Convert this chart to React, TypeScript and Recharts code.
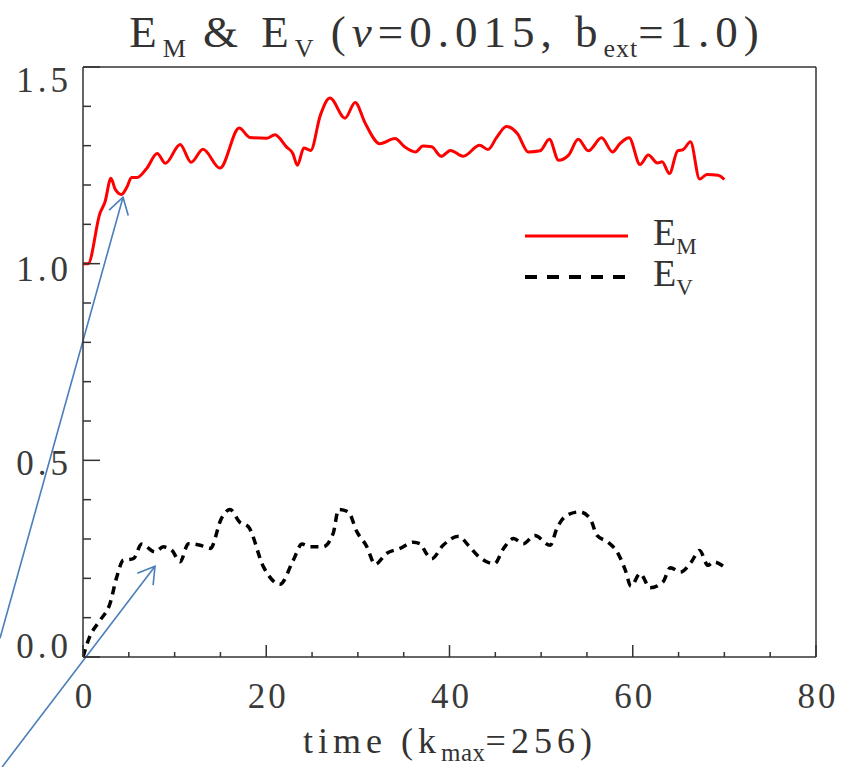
import { Customized, Line, LineChart, ReferenceLine, XAxis, YAxis } from 'recharts'

// magnetic energy E_M(t)
const emTime = [
  0, 0.55, 1.85, 2.4, 3.05, 3.5, 4.2, 4.8, 5.3, 5.9, 6.95, 8.1, 9.0, 10.6, 11.8, 13.1, 14.95, 17.05,
  18.2, 20.05, 20.95, 22.2, 22.9, 23.4, 24.1, 24.85, 25.9, 26.95, 28.6, 29.7, 30.8, 32.4, 34.05, 35.1,
  36.3, 37.1, 38.05, 39.1, 40.1, 41.5, 43.3, 44.2, 45.15, 46.2, 47.4, 48.6, 49.9, 50.9, 51.9, 53.0,
  54.05, 55.15, 56.6, 57.8, 58.6, 59.6, 60.8, 61.7, 62.7, 63.2, 64.0, 64.9, 65.5, 66.3, 67.3, 68.1,
  69.3, 70.0,
]
const emValue = [
  1.0, 1.0, 1.128, 1.157, 1.217, 1.19, 1.176, 1.195, 1.219, 1.219, 1.242, 1.28, 1.255, 1.303, 1.258,
  1.291, 1.243, 1.345, 1.321, 1.319, 1.328, 1.297, 1.28, 1.25, 1.294, 1.288, 1.377, 1.421, 1.37, 1.41,
  1.357, 1.305, 1.318, 1.297, 1.284, 1.299, 1.297, 1.273, 1.288, 1.273, 1.301, 1.29, 1.321, 1.349,
  1.331, 1.284, 1.287, 1.316, 1.263, 1.276, 1.316, 1.287, 1.32, 1.284, 1.305, 1.32, 1.252, 1.276,
  1.256, 1.259, 1.229, 1.287, 1.29, 1.31, 1.215, 1.227, 1.225, 1.214,
]

// kinetic energy E_V(t)
const evTime = [
  0, 0.7, 1.86, 2.95, 3.68, 4.4, 5.5, 6.4, 7.86, 8.77, 9.7, 10.6, 11.5, 12.8, 13.9, 15.1, 16.04, 17.1,
  18.05, 19.7, 21.5, 22.95, 23.9, 24.8, 26.2, 27.3, 27.9, 28.95, 29.9, 30.9, 31.9, 33.1, 34.6, 36.05,
  36.8, 37.5, 38.05, 39.3, 41.0, 42.05, 43.3, 44.9, 45.9, 47.0, 48.05, 49.3, 51.0, 51.7, 52.8, 54.2,
  55.35, 56.1, 57.3, 58.4, 59.2, 59.8, 60.8, 61.9, 63.3, 64.1, 65.2, 66.4, 67.3, 68.2, 68.8, 70.0,
]
const evValue = [
  0.0, 0.05, 0.093, 0.136, 0.203, 0.246, 0.25, 0.287, 0.267, 0.28, 0.271, 0.242, 0.288, 0.284, 0.276,
  0.352, 0.375, 0.343, 0.331, 0.229, 0.185, 0.246, 0.287, 0.28, 0.28, 0.314, 0.375, 0.369, 0.318,
  0.284, 0.236, 0.263, 0.276, 0.292, 0.288, 0.262, 0.25, 0.284, 0.307, 0.284, 0.253, 0.237, 0.276,
  0.301, 0.288, 0.309, 0.284, 0.326, 0.36, 0.369, 0.352, 0.309, 0.292, 0.263, 0.22, 0.18, 0.212,
  0.176, 0.191, 0.227, 0.216, 0.242, 0.271, 0.233, 0.242, 0.229,
]

const xTicks = [0, 5, 10, 15, 20, 25, 30, 35, 40, 45, 50, 55, 60, 65, 70, 75, 80]
const xLabels = [0, 20, 40, 60, 80]
const yTicks = [0, 0.1, 0.2, 0.3, 0.4, 0.5, 0.6, 0.7, 0.8, 0.9, 1.0, 1.1, 1.2, 1.3, 1.4, 1.5]
const yLabels = [0, 0.5, 1.0, 1.5]

const seriesNames = ['E_M', 'E_V']
const seriesColors = ['#ff0000', '#000000']

// hand-drawn annotation arrows, in data units (time, energy)
const arrowFrom = [
  { t: -9.06, v: 0.0475 },
  { t: -8.84, v: -0.28 },
]
const arrowTo = [
  { t: 4.37, v: 1.169 },
  { t: 7.86, v: 0.2306 },
]

const emData = emTime.map((t, i) => ({ t, v: emValue[i] }))
const evData = evTime.map((t, i) => ({ t, v: evValue[i] }))

const FONT = '"Liberation Serif", serif'
const INK = '#333'
const ARROW = '#4a7ebb'

// nudge of the y labels relative to their tick (as in the original plot)
const yLabelShift: Record<string, number> = { '0': -11, '0.5': 2.5, '1': 5, '1.5': 13 }

function BottomTick({ x, y, payload }: any) {
  const major = xLabels.includes(payload.value)
  return (
    <g>
      <line x1={x} y1={y} x2={x} y2={y - (major ? 12 : 5)} stroke={INK} strokeWidth={1.5} />
      {major && (
        <text x={x + 2} y={y + 51} textAnchor='middle' fontFamily={FONT} fontSize={35} fill='#3a3a3a' letterSpacing={3}>
          {payload.value}
        </text>
      )}
    </g>
  )
}

function TopTick({ x, y, payload }: any) {
  const major = xLabels.includes(payload.value)
  return <line x1={x} y1={y} x2={x} y2={y + (major ? 12 : 5)} stroke={INK} strokeWidth={1.5} />
}

function LeftTick({ x, y, payload }: any) {
  const major = yLabels.includes(payload.value)
  const shift = yLabelShift[String(payload.value)] ?? 0
  return (
    <g>
      <line x1={x} y1={y} x2={x + (major ? 17 : 8)} y2={y} stroke={INK} strokeWidth={1.5} />
      {major && (
        <text x={x - 11} y={y + shift + 12} textAnchor='end' fontFamily={FONT} fontSize={35} fill='#3a3a3a' letterSpacing={4}>
          {payload.value.toFixed(1)}
        </text>
      )}
    </g>
  )
}

function RightTick({ x, y, payload }: any) {
  const major = yLabels.includes(payload.value)
  return <line x1={x} y1={y} x2={x - (major ? 17 : 8)} y2={y} stroke={INK} strokeWidth={1.5} />
}

function ArrowShape({ x1, y1, x2, y2 }: any) {
  const ang = Math.atan2(y2 - y1, x2 - x1)
  const len = 19
  const spread = 0.55
  const a = [x2 - len * Math.cos(ang - spread), y2 - len * Math.sin(ang - spread)]
  const b = [x2 - len * Math.cos(ang + spread), y2 - len * Math.sin(ang + spread)]
  return (
    <g stroke={ARROW} strokeWidth={1.6} fill='none'>
      <line x1={x1} y1={y1} x2={x2} y2={y2} />
      <polyline points={`${a[0]},${a[1]} ${x2},${y2} ${b[0]},${b[1]}`} />
    </g>
  )
}

function Overlay() {
  return (
    <g fontFamily={FONT} fill={INK} xmlSpace='preserve' style={{ whiteSpace: 'pre' }}>
      <text x={447} y={47} textAnchor='middle' fontSize={45} letterSpacing={6}>
        E
        <tspan fontSize={26} dy={10} letterSpacing={0}>
          M
        </tspan>
        <tspan dy={-10}>{'   &   E'}</tspan>
        <tspan fontSize={26} dy={10} letterSpacing={0}>
          V
        </tspan>
        <tspan dy={-10}>{'   ('}</tspan>
        <tspan fontStyle='italic'>ν</tspan>
        <tspan>{'=0.015,   b'}</tspan>
        <tspan fontSize={26} dy={10} letterSpacing={1}>
          ext
        </tspan>
        <tspan dy={-10}>=1.0)</tspan>
      </text>
      <text x={450} y={753} textAnchor='middle' fontSize={36} letterSpacing={5}>
        {'time  (k'}
        <tspan fontSize={25} dy={8} letterSpacing={0.5}>
          max
        </tspan>
        <tspan dy={-8}>=256)</tspan>
      </text>
      {seriesNames.map((name, i) => {
        const [base, sub] = name.split('_')
        const ly = 236 + i * 41
        return (
          <g key={name}>
            <line
              x1={525}
              x2={628}
              y1={ly}
              y2={ly}
              stroke={seriesColors[i]}
              strokeWidth={i === 0 ? 3 : 4}
              strokeDasharray={i === 1 ? '12 10' : undefined}
            />
            <text x={653} y={ly + 9} fontSize={38}>
              {base}
              <tspan fontSize={23} dy={9}>
                {sub}
              </tspan>
            </text>
          </g>
        )
      })}
    </g>
  )
}

export default function App() {
  return (
    <div style={{ position: 'absolute', left: 0, top: 0, width: 851, height: 767, background: '#fff' }}>
      <LineChart width={851} height={767} margin={{ top: 66, right: 34, bottom: 109, left: 82 }}>
        <XAxis
          dataKey='t'
          type='number'
          domain={[0, 80]}
          ticks={xTicks}
          interval={0}
          height={1}
          tickSize={0}
          tickMargin={0}
          tick={<BottomTick />}
          axisLine={{ stroke: INK, strokeWidth: 1.5 }}
          allowDataOverflow
        />
        <XAxis
          xAxisId='top'
          orientation='top'
          dataKey='t'
          type='number'
          domain={[0, 80]}
          ticks={xTicks}
          interval={0}
          height={1}
          tickSize={0}
          tickMargin={0}
          tick={<TopTick />}
          axisLine={{ stroke: INK, strokeWidth: 1.5 }}
        />
        <YAxis
          type='number'
          domain={[0, 1.5]}
          ticks={yTicks}
          interval={0}
          width={1}
          tickSize={0}
          tickMargin={0}
          tick={<LeftTick />}
          axisLine={{ stroke: INK, strokeWidth: 1.5 }}
          allowDataOverflow
        />
        <YAxis
          yAxisId='right'
          orientation='right'
          type='number'
          domain={[0, 1.5]}
          ticks={yTicks}
          interval={0}
          width={1}
          tickSize={0}
          tickMargin={0}
          tick={<RightTick />}
          axisLine={{ stroke: INK, strokeWidth: 1.5 }}
        />
        <Line
          data={emData}
          dataKey='v'
          name={seriesNames[0]}
          type='monotone'
          stroke={seriesColors[0]}
          strokeWidth={3}
          dot={false}
          isAnimationActive={false}
        />
        <Line
          data={evData}
          dataKey='v'
          name={seriesNames[1]}
          type='monotone'
          stroke={seriesColors[1]}
          strokeWidth={3.5}
          strokeDasharray='8 6'
          dot={false}
          isAnimationActive={false}
        />
        {arrowFrom.map((p, i) => (
          <ReferenceLine
            key={i}
            segment={[
              { x: p.t, y: p.v },
              { x: arrowTo[i].t, y: arrowTo[i].v },
            ]}
            ifOverflow='visible'
            shape={<ArrowShape />}
          />
        ))}
        <Customized component={<Overlay />} />
      </LineChart>
    </div>
  )
}
